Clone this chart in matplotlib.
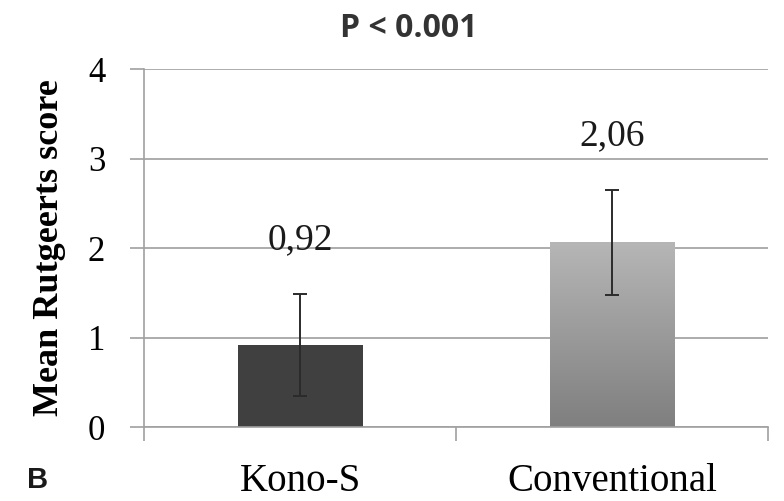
import numpy as np
import matplotlib.pyplot as plt
from matplotlib.colors import LinearSegmentedColormap

groups = ['Kono-S', 'Conventional']
means = [0.92, 2.06]
errors = [0.57, 0.59]
value_labels = ['0,92', '2,06']

serif = 'Liberation Serif'

fig = plt.figure(figsize=(7.84, 5.01), dpi=100)
ax = fig.add_axes([0.1837, 0.1477, 0.7963, 0.7143])

x = np.arange(len(groups))
width = 0.4

# dark solid bar for Kono-S
ax.bar(x[0], means[0], width=width, color='#404040', zorder=2)

# gradient fill for the conventional bar
grad = LinearSegmentedColormap.from_list('g', ['#7f7f7f', '#b6b6b6'])
ax.imshow(np.linspace(0, 1, 256).reshape(-1, 1), cmap=grad, origin='lower',
          extent=[x[1] - width / 2, x[1] + width / 2, 0, means[1]],
          aspect='auto', zorder=2)

ax.errorbar(x, means, yerr=errors, fmt='none', ecolor='#2b2b2b',
            elinewidth=1.4, capsize=4.7, capthick=1.4, zorder=3)

for xi, m, e, lab in zip(x, means, errors, value_labels):
    ax.text(xi, m + e + 0.5, lab, ha='center', va='baseline',
            fontsize=27, family=serif, color='#1a1a1a')

ax.set_xlim(-0.5, 1.5)
ax.set_ylim(0, 4)
ax.set_yticks([0, 1, 2, 3, 4])
ax.set_xticks([-0.5, 0.5, 1.5])
ax.set_xticklabels([])
ax.set_xticks(x, minor=True)
ax.set_xticklabels(groups, minor=True, fontsize=28, family=serif)
ax.tick_params(axis='x', which='minor', length=0, pad=26)
ax.tick_params(axis='x', which='major', length=10, width=1.2, color='#a0a0a0')
ax.tick_params(axis='y', length=10, width=1.2, color='#a0a0a0', pad=18,
               labelsize=25)
for t in ax.get_yticklabels():
    t.set_family(serif)

ax.yaxis.grid(True, color='#a6a6a6', linewidth=1.3, zorder=0)
ax.set_axisbelow(True)
for s in ['top', 'right']:
    ax.spines[s].set_visible(False)
for s in ['left', 'bottom']:
    ax.spines[s].set_color('#a0a0a0')
    ax.spines[s].set_linewidth(1.2)

ax.set_ylabel('Mean Rutgeerts score', fontsize=26, family=serif,
              fontweight='bold')
ax.yaxis.set_label_coords(-0.125, 0.5)

fig.text(0.521, 0.944, 'P < 0.001', ha='center', va='center', fontsize=23,
         fontweight='bold', family='Open Sans', color='#333333')
fig.text(0.048, 0.042, 'B', ha='center', va='center', fontsize=21,
         fontweight='bold', family='Liberation Sans', color='#1a1a1a')

fig.savefig('out.png', dpi=100)
